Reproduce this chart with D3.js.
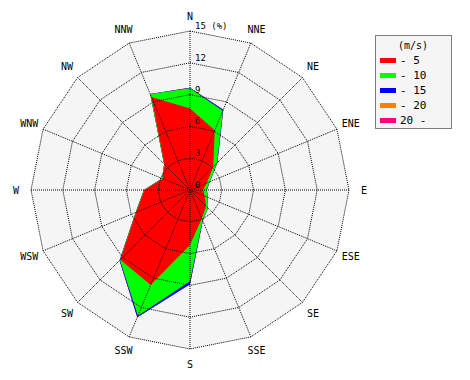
<!DOCTYPE html>
<html>
<head>
<meta charset="utf-8">
<script src="https://cdn.jsdelivr.net/npm/d3@7"></script>
<style>
  body { margin: 0; background: #fff; }
  svg { display: block; font-family: "DejaVu Sans Mono", monospace; }
</style>
</head>
<body>
<svg id="rose"></svg>
<script>
// Wind directions, clockwise from north
const directions = ['N', 'NNE', 'NE', 'ENE', 'E', 'ESE', 'SE', 'SSE',
                    'S', 'SSW', 'SW', 'WSW', 'W', 'WNW', 'NW', 'NNW'];

// Frequency (%) per speed class, per direction (not cumulative)
const speed5  = [7.7, 6.1, 3.1, 1.7, 1.25, 1.5, 2.15, 2.9, 5.2, 9.7, 9.3, 5.5, 4.3, 2.8, 3.4, 9.5];
const speed10 = [1.9, 2.0, 0.5, 0.3, 0.3, 0.3, 0.25, 0.2, 3.4, 3.15, 0.05, 0.05, 0.05, 0.05, 0.05, 0.3];
const speed15 = [0.05, 0.1, 0.05, 0.0, 0.05, 0.0, 0.0, 0.05, 0.3, 0.15, 0.05, 0.0, 0.0, 0.0, 0.0, 0.0];
const speed20 = [0, 0, 0, 0, 0, 0, 0, 0, 0, 0, 0, 0, 0, 0, 0, 0];
const speedOver20 = [0, 0, 0, 0, 0, 0, 0, 0, 0, 0, 0, 0, 0, 0, 0, 0];

const seriesNames = ['- 5', '- 10', '- 15', '- 20', '20 -'];
const seriesColors = ['#ff0000', '#00ff00', '#0000ff', '#ff8000', '#ff0080'];
const ringTicks = [0, 3, 6, 9, 12, 15];

const svg = d3.select('#rose');
const width = 470;
const height = 380;
svg.attr('width', width).attr('height', height);

const cx = 190, cy = 190;
const rMax = 159;

const rScale = d3.scaleLinear().domain([0, 15]).range([0, rMax]);
const angle = d3.scalePoint().domain(directions).range([0, 2 * Math.PI * 15 / 16]);

const g = svg.append('g').attr('transform', `translate(${cx},${cy})`);

// polygon for a ring of a given value
function ringPoints(v) {
    return directions.map(d => [angle(d), rScale(v)]);
}
const radialLine = d3.lineRadial().curve(d3.curveLinearClosed);

// Background of plot area
g.append('path')
    .attr('d', radialLine(ringPoints(15)))
    .attr('fill', '#f5f5f5');

// Cumulative stacks
const series = [speed5, speed10, speed15, speed20, speedOver20];
let cum = directions.map(() => 0);
const stacks = series.map(s => {
    cum = cum.map((c, i) => c + s[i]);
    return cum.slice();
});

// draw outermost first
for (let k = stacks.length - 1; k >= 0; k--) {
    const pts = directions.map((d, i) => [angle(d), rScale(stacks[k][i])]);
    g.append('path')
        .attr('d', radialLine(pts))
        .attr('fill', seriesColors[k])
        .attr('stroke', 'none');
}

// Grid rings
ringTicks.filter(t => t > 0).forEach(t => {
    g.append('path')
        .attr('d', radialLine(ringPoints(t)))
        .attr('fill', 'none')
        .attr('stroke', '#000')
        .attr('stroke-width', 1)
        .attr('stroke-dasharray', '1,1');
});

// Spokes
directions.forEach(d => {
    const a = angle(d);
    g.append('line')
        .attr('x1', 0).attr('y1', 0)
        .attr('x2', rScale(15) * Math.sin(a))
        .attr('y2', -rScale(15) * Math.cos(a))
        .attr('stroke', '#000')
        .attr('stroke-width', 1)
        .attr('stroke-dasharray', '1,1');
});

// Ring labels along the north axis
ringTicks.forEach(t => {
    g.append('text')
        .attr('x', 5)
        .attr('y', -rScale(t) - 2)
        .attr('font-size', '9px')
        .attr('fill', '#000')
        .text(t === 15 ? '15 (%)' : t);
});

// Direction labels
directions.forEach(d => {
    const a = angle(d);
    const r = rMax + 15;
    g.append('text')
        .attr('x', r * Math.sin(a))
        .attr('y', -r * Math.cos(a))
        .attr('dy', '0.35em')
        .attr('text-anchor', 'middle')
        .attr('font-size', '10px')
        .attr('fill', '#000')
        .text(d);
});

// Legend
const legend = svg.append('g').attr('transform', 'translate(375,35)');
legend.append('rect')
    .attr('x', 0.5).attr('y', 0.5)
    .attr('width', 76).attr('height', 93)
    .attr('fill', '#f5f5f5')
    .attr('stroke', '#000')
    .attr('stroke-dasharray', '1,1');
legend.append('text')
    .attr('x', 38).attr('y', 14)
    .attr('text-anchor', 'middle')
    .attr('font-size', '10px')
    .text('(m/s)');
seriesNames.forEach((name, i) => {
    const y = 25 + i * 15;
    legend.append('rect')
        .attr('x', 5).attr('y', y - 2)
        .attr('width', 16).attr('height', 5)
        .attr('fill', seriesColors[i]);
    legend.append('text')
        .attr('x', 25).attr('y', y)
        .attr('dy', '0.35em')
        .attr('font-size', '11px')
        .text(name);
});
</script>
</body>
</html>
